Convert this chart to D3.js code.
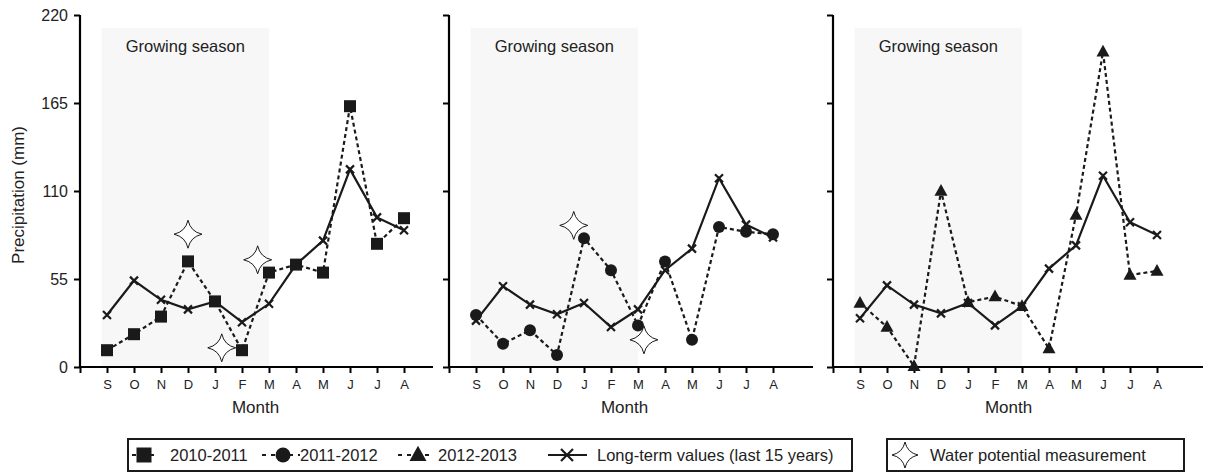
<!DOCTYPE html>
<html>
<head>
<meta charset="utf-8">
<script src="https://cdn.jsdelivr.net/npm/d3@7"></script>
<style>
  body { margin: 0; background: #fff; }
  svg { display: block; font-family: "Liberation Sans", Arial, sans-serif; }
</style>
</head>
<body>
<div id="chart"></div>
<script>
var width = 1207, height = 473;

// data
var months = ['S','O','N','D','J','F','M','A','M','J','J','A'];
var yTicks = [0, 55, 110, 165, 220];
var seasons = ['2010-2011', '2011-2012', '2012-2013'];

var precip2010 = [10.5, 20.5, 31.5, 66, 41, 10.5, 59, 64, 59, 163, 77, 93];
var precip2011 = [32.5, 14.5, 23, 7.5, 80.5, 60.5, 26, 66, 17, 87.5, 84.5, 83];
var precip2012 = [40, 25, 0.5, 110, 40.5, 44, 38, 11.5, 95, 197, 57.5, 60];

var longTerm2010 = [32.5, 54, 42, 36, 41, 28, 39.5, 64, 79, 123.5, 93.5, 85.5];
var longTerm2011 = [29, 50.5, 39, 33, 40, 25, 36, 60.5, 74, 118, 89, 81];
var longTerm2012 = [30.5, 51, 39, 33.5, 40, 26, 38, 61.5, 76, 119.5, 90.5, 82.5];

// water potential measurement dates (month index) and heights
var starPos2010 = [3, 4.25, 5.58];
var starVal2010 = [83, 12, 67];
var starPos2011 = [3.62, 6.22];
var starVal2011 = [88.5, 17];
var starPos2012 = [];
var starVal2012 = [];

var panels = [
  {season: seasons[0], values: precip2010, longTerm: longTerm2010, starPos: starPos2010, starVal: starVal2010, marker: 'square'},
  {season: seasons[1], values: precip2011, longTerm: longTerm2011, starPos: starPos2011, starVal: starVal2011, marker: 'circle'},
  {season: seasons[2], values: precip2012, longTerm: longTerm2012, starPos: starPos2012, starVal: starVal2012, marker: 'triangle'}
];

// layout
var panelLeft = [80, 449, 833];
var axisLen = [353, 364, 370];
var plotTop = 15, plotBottom = 367;
var step = 27;

var svg = d3.select('#chart').append('svg')
  .attr('width', width)
  .attr('height', height);

var y = d3.scaleLinear().domain([0, 220]).range([plotBottom, plotTop]);

function starPath(r) {
  var c = r * 0.18;
  return 'M0,' + (-r) + 'Q' + c + ',' + (-c) + ' ' + r + ',0' +
    'Q' + c + ',' + c + ' 0,' + r +
    'Q' + (-c) + ',' + c + ' ' + (-r) + ',0' +
    'Q' + (-c) + ',' + (-c) + ' 0,' + (-r) + 'Z';
}

function drawMarker(g, type, size) {
  if (type === 'square') {
    g.append('rect').attr('x', -size / 2).attr('y', -size / 2)
      .attr('width', size).attr('height', size).attr('fill', '#1a1a1a');
  } else if (type === 'circle') {
    g.append('circle').attr('r', size / 2).attr('fill', '#1a1a1a');
  } else if (type === 'triangle') {
    var h = size * 0.9;
    g.append('path')
      .attr('d', 'M0,' + (-h * 0.6) + 'L' + (size / 2) + ',' + (h * 0.4) + 'L' + (-size / 2) + ',' + (h * 0.4) + 'Z')
      .attr('fill', '#1a1a1a');
  } else if (type === 'cross') {
    var s = size / 2;
    g.append('path')
      .attr('d', 'M' + (-s) + ',' + (-s) + 'L' + s + ',' + s + 'M' + (-s) + ',' + s + 'L' + s + ',' + (-s))
      .attr('stroke', '#1a1a1a').attr('stroke-width', 2.2).attr('fill', 'none');
  } else if (type === 'star') {
    g.append('path').attr('d', starPath(size / 2))
      .attr('fill', '#fff').attr('stroke', '#1a1a1a').attr('stroke-width', 1);
  }
}

panels.forEach(function(p, k) {
  var x0 = panelLeft[k];
  var x = d3.scaleLinear().domain([-1, 11]).range([x0, x0 + step * 12]);
  var g = svg.append('g');

  // growing season shading
  g.append('rect')
    .attr('x', x(-0.2))
    .attr('y', y(212))
    .attr('width', x(6) - x(-0.2))
    .attr('height', y(0) - y(212))
    .attr('fill', '#f7f7f7');

  g.append('text')
    .attr('x', (x(-0.2) + x(6)) / 2)
    .attr('y', 52)
    .attr('text-anchor', 'middle')
    .style('font-size', '16.5px')
    .attr('fill', '#222')
    .text('Growing season');

  // y axis
  var yAxis = d3.axisLeft(y).tickValues(yTicks).tickSize(6).tickPadding(6)
    .tickFormat(k === 0 ? d3.format('d') : '');
  var ya = g.append('g').attr('transform', 'translate(' + x0 + ',0)').call(yAxis);
  ya.select('.domain').attr('stroke-width', 2.2).attr('d', 'M0,' + plotTop + 'V' + plotBottom);
  ya.selectAll('.tick line').attr('stroke-width', 2);
  ya.selectAll('.tick text').style('font-size', '16px').attr('fill', '#222');

  // x axis
  var xAxis = d3.axisBottom(x).tickValues(d3.range(-1, 12)).tickSize(6).tickPadding(7)
    .tickFormat(function(i) { return i >= 0 ? months[i] : ''; });
  var xa = g.append('g').attr('transform', 'translate(0,' + plotBottom + ')').call(xAxis);
  xa.select('.domain').attr('stroke-width', 2.2).attr('d', 'M' + x0 + ',0H' + (x0 + axisLen[k]));
  xa.selectAll('.tick line').attr('stroke-width', 2);
  xa.selectAll('.tick text').style('font-size', '13px').attr('fill', '#222');

  g.append('text')
    .attr('x', (x(0) + x(11)) / 2)
    .attr('y', 413)
    .attr('text-anchor', 'middle')
    .style('font-size', '17px')
    .attr('fill', '#222')
    .text('Month');

  var line = d3.line().x(function(d, i) { return x(i); }).y(function(d) { return y(d); });

  g.append('path').datum(p.longTerm)
    .attr('d', line)
    .attr('fill', 'none').attr('stroke', '#1a1a1a').attr('stroke-width', 2.2);

  g.append('path').datum(p.values)
    .attr('d', line)
    .attr('fill', 'none').attr('stroke', '#1a1a1a').attr('stroke-width', 2.2)
    .attr('stroke-dasharray', '4,3');

  p.longTerm.forEach(function(v, i) {
    drawMarker(g.append('g').attr('transform', 'translate(' + x(i) + ',' + y(v) + ')'), 'cross', 8);
  });

  p.values.forEach(function(v, i) {
    drawMarker(g.append('g').attr('transform', 'translate(' + x(i) + ',' + y(v) + ')'), p.marker, p.marker === 'triangle' ? 13 : 12);
  });

  p.starPos.forEach(function(m, i) {
    drawMarker(g.append('g').attr('transform', 'translate(' + x(m) + ',' + y(p.starVal[i]) + ')'), 'star', 28);
  });
});

// y axis title
svg.append('text')
  .attr('transform', 'translate(24,195) rotate(-90)')
  .attr('text-anchor', 'middle')
  .style('font-size', '17px')
  .attr('fill', '#222')
  .text('Precipitation (mm)');

// legend
var legendTextY = 461, legendMidY = 455;
var leg = svg.append('g');
leg.append('rect').attr('x', 128).attr('y', 439).attr('width', 724).attr('height', 32)
  .attr('fill', '#fff').attr('stroke', '#1a1a1a').attr('stroke-width', 2);
leg.append('rect').attr('x', 887).attr('y', 439).attr('width', 297).attr('height', 32)
  .attr('fill', '#fff').attr('stroke', '#1a1a1a').attr('stroke-width', 2);

var legendItems = [
  {label: seasons[0], marker: 'square', cx: 144, x1: 132, x2: 158, tx: 170, dashed: true},
  {label: seasons[1], marker: 'circle', cx: 283, x1: 262, x2: 300, tx: 300, dashed: true},
  {label: seasons[2], marker: 'triangle', cx: 418, x1: 398, x2: 434, tx: 438, dashed: true},
  {label: 'Long-term values (last 15 years)', marker: 'cross', cx: 567, x1: 548, x2: 587, tx: 597, dashed: false},
  {label: 'Water potential measurement', marker: 'star', cx: 905, x1: null, x2: null, tx: 930, dashed: false}
];

legendItems.forEach(function(d) {
  if (d.x1 !== null) {
    leg.append('line')
      .attr('x1', d.x1).attr('x2', d.x2).attr('y1', legendMidY).attr('y2', legendMidY)
      .attr('stroke', '#1a1a1a').attr('stroke-width', 2.2)
      .attr('stroke-dasharray', d.dashed ? '4,5' : null);
  }
  var size = d.marker === 'star' ? 26 : d.marker === 'cross' ? 12 : d.marker === 'triangle' ? 17 : 15;
  drawMarker(leg.append('g').attr('transform', 'translate(' + d.cx + ',' + legendMidY + ')'), d.marker, size);
  leg.append('text')
    .attr('x', d.tx).attr('y', legendTextY)
    .style('font-size', '16.5px')
    .attr('fill', '#222')
    .text(d.label);
});
</script>
</body>
</html>
